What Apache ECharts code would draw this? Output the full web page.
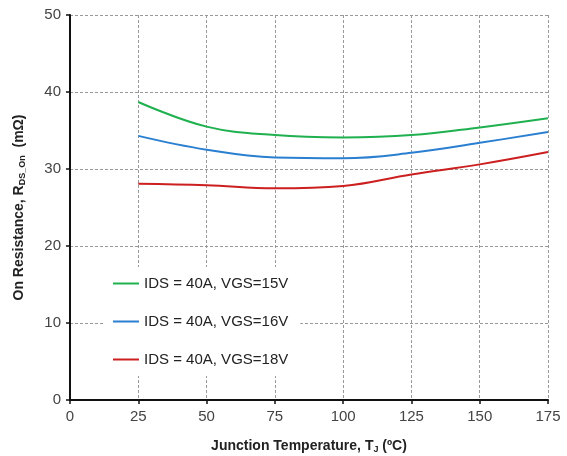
<!DOCTYPE html>
<html><head><meta charset="utf-8">
<script src="https://cdn.jsdelivr.net/npm/echarts@6/dist/echarts.min.js"></script>
<style>html,body{margin:0;padding:0;background:#fff}#c{width:567px;height:456px}</style>
</head><body><div id="c"></div>
<script>
const temps = [25, 50, 75, 100, 125, 150, 175];
const vgs15 = [38.7, 35.5, 34.4, 34.1, 34.4, 35.4, 36.6];
const vgs16 = [34.3, 32.5, 31.5, 31.4, 32.1, 33.4, 34.8];
const vgs18 = [28.1, 27.9, 27.5, 27.8, 29.3, 30.6, 32.2];
const seriesNames = ['IDS = 40A, VGS=15V', 'IDS = 40A, VGS=16V', 'IDS = 40A, VGS=18V'];
const xTicks = [0, 25, 50, 75, 100, 125, 150, 175];
const yTicks = [0, 10, 20, 30, 40, 50];

const colors = ['#1fb04f', '#2a7fd0', '#cc1f1f'];
const pair = arr => temps.map((t, i) => [t, arr[i]]);
const FONT = 'Liberation Sans, Arial, sans-serif';
const chart = echarts.init(document.getElementById('c'));
chart.setOption({
  animation: false,
  textStyle: { fontFamily: FONT },
  grid: { left: 70, right: 19, top: 15, bottom: 56, containLabel: false, outerBoundsMode: 'none' },
  legend: {
    orient: 'vertical', left: 103, top: 267, width: 200,
    backgroundColor: '#fff', padding: [9, 12, 9, 10],
    itemWidth: 26, itemHeight: 2, itemGap: 23,
    icon: 'rect',
    textStyle: { fontSize: 15, color: '#222', fontFamily: FONT },
    data: seriesNames
  },
  xAxis: {
    type: 'value', min: 0, max: 175, interval: 25,
    name: 'Junction Temperature, T{sub|J} (ºC)',
    nameLocation: 'middle', nameGap: 39,
    nameTextStyle: { fontSize: 14, fontWeight: 'bold', color: '#222',
      rich: { sub: { fontSize: 9, fontWeight: 'bold', color: '#222', padding: [6, 0, 0, 0] } } },
    axisLine: { lineStyle: { color: '#111', width: 2 } },
    axisTick: { show: true, inside: false, length: 4, lineStyle: { color: '#111', width: 1.5 } },
    axisLabel: { fontSize: 15, color: '#444', margin: 9, formatter: v => xTicks.includes(v) ? String(v) : '' },
    splitLine: { show: true, lineStyle: { color: '#999', type: [3, 2], width: 1 } }
  },
  yAxis: {
    type: 'value', min: 0, max: 50, interval: 10,
    name: 'On Resistance, R{sub|DS_On}  (mΩ)',
    nameLocation: 'middle', nameGap: 43, nameRotate: 90,
    nameTextStyle: { fontSize: 14, fontWeight: 'bold', color: '#222',
      rich: { sub: { fontSize: 9, fontWeight: 'bold', color: '#222', padding: [6, 0, 0, 0] } } },
    axisLine: { show: true, lineStyle: { color: '#111', width: 2 } },
    axisTick: { show: true, length: 4, lineStyle: { color: '#111', width: 1.5 } },
    axisLabel: { fontSize: 15, color: '#444', margin: 9, formatter: v => yTicks.includes(v) ? String(v) : '' },
    splitLine: { show: true, lineStyle: { color: '#999', type: [3, 2], width: 1 } }
  },
  series: [
    { name: seriesNames[0], type: 'line', data: pair(vgs15), smooth: 0.4, showSymbol: false, lineStyle: { color: colors[0], width: 2 }, itemStyle: { color: colors[0] } },
    { name: seriesNames[1], type: 'line', data: pair(vgs16), smooth: 0.4, showSymbol: false, lineStyle: { color: colors[1], width: 2 }, itemStyle: { color: colors[1] } },
    { name: seriesNames[2], type: 'line', data: pair(vgs18), smooth: 0.4, showSymbol: false, lineStyle: { color: colors[2], width: 2 }, itemStyle: { color: colors[2] } }
  ]
});
</script></body></html>
